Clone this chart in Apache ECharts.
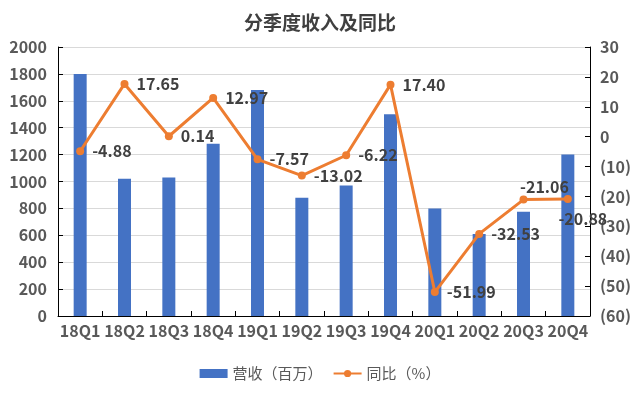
<!DOCTYPE html>
<html><head><meta charset="utf-8">
<script src="https://cdn.jsdelivr.net/npm/echarts@6/dist/echarts.min.js"></script>
<style>html,body{margin:0;padding:0;background:#fff}#c{width:640px;height:394px}</style>
</head><body><div id="c"></div>
<script>
const categories = ['18Q1','18Q2','18Q3','18Q4','19Q1','19Q2','19Q3','19Q4','20Q1','20Q2','20Q3','20Q4'];
const revenue = [1800, 1020, 1030, 1280, 1680, 880, 970, 1500, 800, 610, 775, 1200];
const yoy = [-4.88, 17.65, 0.14, 12.97, -7.57, -13.02, -6.22, 17.40, -51.99, -32.53, -21.06, -20.88];
const labelPos = ['right','right','right','right','right','right','right','right','right','right','top','bottom'];
const labelOffset = [[0,0],[0,0],[0,0],[0,0],[0,0],[0,0],[0,0],[0,0],[0,0],[0,0],[21,7],[15,0]];

const font = "'Noto Sans CJK SC', 'Noto Sans', sans-serif";
const chart = echarts.init(document.getElementById('c'));
chart.setOption({
  animation: false,
  textStyle: { fontFamily: font },
  title: { text: '分季度收入及同比', left: 'center', top: 8,
    textStyle: { fontSize: 19, fontWeight: 'bold', color: '#404040', fontFamily: font } },
  grid: { left: 58, right: 50, top: 47, bottom: 78 },
  legend: { bottom: 8, itemGap: 10, itemWidth: 28, itemHeight: 9,
    textStyle: { fontSize: 15, color: '#595959', fontFamily: font },
    data: [{ name: '营收（百万）', icon: 'rect' }, { name: '同比（%）' }] },
  xAxis: { type: 'category', data: categories,
    axisLine: { lineStyle: { color: '#000' } },
    axisTick: { show: true, inside: true, length: 5, lineStyle: { color: '#000' } },
    axisLabel: { fontSize: 16, fontWeight: 'bold', color: '#595959', margin: 7, interval: 0 } },
  yAxis: [
    { type: 'value', min: 0, max: 2000, interval: 200,
      axisLine: { show: true, lineStyle: { color: '#000' } },
      axisTick: { show: true, inside: true, length: 5, lineStyle: { color: '#000' } },
      splitLine: { lineStyle: { color: '#d9d9d9' } },
      axisLabel: { fontSize: 16, fontWeight: 'bold', color: '#595959', margin: 11,
        formatter: v => String(v) } },
    { type: 'value', min: -60, max: 30, interval: 10,
      axisLine: { show: true, lineStyle: { color: '#000' } },
      axisTick: { show: true, inside: true, length: 5, lineStyle: { color: '#000' } },
      splitLine: { show: false },
      axisLabel: { fontSize: 16, fontWeight: 'bold', color: '#595959', margin: 10,
        formatter: v => v < 0 ? '(' + (-v) + ')' : String(v) } }
  ],
  series: [
    { name: '营收（百万）', type: 'bar', data: revenue, barWidth: 13,
      itemStyle: { color: '#4472C4' } },
    { name: '同比（%）', type: 'line', yAxisIndex: 1, z: 5,
      data: yoy.map((v, i) => ({ value: v, label: { position: labelPos[i], offset: labelOffset[i] } })),
      symbol: 'circle', symbolSize: 8,
      lineStyle: { color: '#ED7D31', width: 3 }, itemStyle: { color: '#ED7D31' },
      label: { show: true, fontSize: 16, fontWeight: 'bold', color: '#404040', distance: 8,
        formatter: p => p.value.toFixed(2) } }
  ]
});
</script></body></html>
